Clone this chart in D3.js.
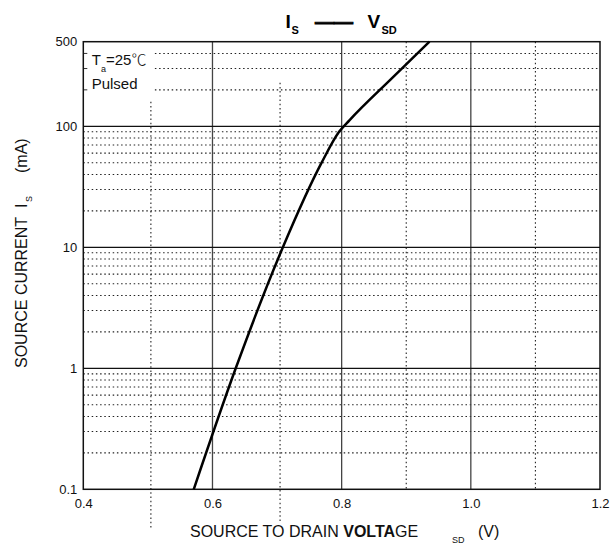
<!DOCTYPE html>
<html>
<head>
<meta charset="utf-8">
<script src="https://cdn.jsdelivr.net/npm/d3@7"></script>
<style>
  body { margin: 0; background: #fff; }
  svg { font-family: "Liberation Sans", Arial, sans-serif; }
</style>
</head>
<body>
<div id="container"></div>
<script>
// Is - Vsd curve
let vsd = [0.571, 0.636, 0.709, 0.769, 0.796, 0.812, 0.878, 0.936];
let is_ma = [0.1, 1, 10, 50, 90, 112, 250, 500];

let x_ticks = [0.4, 0.6, 0.8, 1.0, 1.2];
let x_minor = [0.5, 0.7, 0.9, 1.1];
let y_ticks = [0.1, 1, 10, 100, 500];
let decades = [0.1, 1, 10, 100];

let width = 616;
let height = 544;
let margin = ({ top: 41.7, right: 16, bottom: 54.7, left: 83.3 });
let w = width - margin.left - margin.right;
let h = height - margin.top - margin.bottom;

let dots = "1.5,2.7";

let svg = d3.select("#container")
  .append("svg")
  .attr("width", width)
  .attr("height", height);

let g = svg.append("g")
  .attr("transform", "translate(" + margin.left + "," + margin.top + ")");

let x = d3.scaleLinear().domain([0.4, 1.2]).range([0, w]);
let y = d3.scaleLog().domain([0.1, 500]).range([h, 0]);

// minor horizontal dotted lines
decades.forEach(function (d) {
  let vals = d3.range(2, 10).map(function (k) { return k * d; }).filter(function (v) { return v < 500; });
  let x_start = d == 100 ? x(0.5) + 7 : 0;
  g.selectAll(null)
    .data(vals)
    .enter()
    .append("line")
    .attr("x1", x_start)
    .attr("x2", w)
    .attr("y1", function (v) { return y(v); })
    .attr("y2", function (v) { return y(v); })
    .attr("stroke", "#222")
    .attr("stroke-width", 1.1)
    .attr("stroke-dasharray", dots);
  if (d == 100) {
    g.selectAll(null)
      .data(vals)
      .enter()
      .append("line")
      .attr("x1", 0)
      .attr("x2", 4)
      .attr("y1", function (v) { return y(v); })
      .attr("y2", function (v) { return y(v); })
      .attr("stroke", "#333")
      .attr("stroke-width", 1);
  }
});

// vertical dotted lines; 0.5 and 0.7 are drawn shifted and run below the axis
let shifted = { 0.5: [60, 40], 0.7: [41, 34] };
g.selectAll(".vminor")
  .data(x_minor)
  .enter()
  .append("line")
  .attr("class", "vminor")
  .attr("x1", function (d) { return x(d) + (shifted[d] ? 3 : 0); })
  .attr("x2", function (d) { return x(d) + (shifted[d] ? 3 : 0); })
  .attr("y1", function (d) { return shifted[d] ? shifted[d][0] : 0; })
  .attr("y2", function (d) { return shifted[d] ? h + shifted[d][1] : h; })
  .attr("stroke", "#222")
  .attr("stroke-width", 1.1)
  .attr("stroke-dasharray", dots);

// major grid
g.selectAll(".vmajor")
  .data([0.6, 0.8, 1.0])
  .enter()
  .append("line")
  .attr("x1", function (d) { return x(d); })
  .attr("x2", function (d) { return x(d); })
  .attr("y1", 0)
  .attr("y2", h)
  .attr("stroke", "#444")
  .attr("stroke-width", 1.3);

g.selectAll(".hmajor")
  .data([1, 10, 100])
  .enter()
  .append("line")
  .attr("x1", 0)
  .attr("x2", w)
  .attr("y1", function (d) { return y(d); })
  .attr("y2", function (d) { return y(d); })
  .attr("stroke", "#111")
  .attr("stroke-width", 1.3);

// frame
g.append("rect")
  .attr("x", 0)
  .attr("y", 0)
  .attr("width", w)
  .attr("height", h)
  .attr("fill", "none")
  .attr("stroke", "#111")
  .attr("stroke-width", 1.5);

// axes (labels only)
let xAxis = g.append("g")
  .attr("transform", "translate(0," + h + ")")
  .call(d3.axisBottom(x).tickValues(x_ticks).tickSize(0).tickPadding(9)
    .tickFormat(d3.format(".1f")));
let yAxis = g.append("g")
  .call(d3.axisLeft(y).tickValues(y_ticks).tickSize(0).tickPadding(6)
    .tickFormat(function (d) { return String(d); }));
[xAxis, yAxis].forEach(function (a) {
  a.select(".domain").remove();
  a.selectAll("text")
    .attr("font-family", "'Liberation Sans', Arial, sans-serif")
    .attr("font-size", 13)
    .attr("fill", "#111");
});

// curve
let line = d3.line()
  .x(function (d, i) { return x(vsd[i]); })
  .y(function (d, i) { return y(is_ma[i]); })
  .curve(d3.curveMonotoneX);

g.append("path")
  .datum(vsd)
  .attr("d", line)
  .attr("fill", "none")
  .attr("stroke", "#000")
  .attr("stroke-width", 2.5);

// annotation
let note = svg.append("text").attr("font-size", 15).attr("fill", "#111");
note.append("tspan").attr("x", 91.7).attr("y", 65).text("T");
note.append("tspan").attr("x", 101).attr("y", 71.5).attr("font-size", 9).text("a");
note.append("tspan").attr("x", 106).attr("y", 65).text("=25");
note.append("tspan").attr("font-family", "'Noto Sans CJK SC'").attr("font-weight", 300).text("℃");
svg.append("text")
  .attr("x", 91.7)
  .attr("y", 89)
  .attr("font-size", 15)
  .attr("fill", "#111")
  .text("Pulsed");

// title
let title = svg.append("text").attr("font-weight", "bold").attr("fill", "#000");
title.append("tspan").attr("x", 285.5).attr("y", 28).attr("font-size", 19).text("I");
title.append("tspan").attr("x", 291.5).attr("y", 33.5).attr("font-size", 11).text("S");
title.append("tspan").attr("x", 315).attr("y", 28).attr("font-size", 19)
  .attr("stroke", "#000").attr("stroke-width", 0.9).text("——");
title.append("tspan").attr("x", 367.5).attr("y", 28).attr("font-size", 19).text("V");
title.append("tspan").attr("x", 381.5).attr("y", 33.5).attr("font-size", 11).text("SD");

// x axis title
let xt = svg.append("text").attr("font-size", 16).attr("fill", "#111");
xt.append("tspan").attr("x", 190).attr("y", 537).text("SOURCE TO DRAIN ");
xt.append("tspan").attr("font-weight", "bold").text("VOLTA");
xt.append("tspan").text("GE");
xt.append("tspan").attr("x", 452).attr("y", 543).attr("font-size", 9).text("SD");
xt.append("tspan").attr("x", 478).attr("y", 537).text("(V)");

// y axis title
let yt = svg.append("text")
  .attr("transform", "translate(27,368) rotate(-90)")
  .attr("font-size", 16)
  .attr("fill", "#111");
yt.append("tspan").attr("x", 0).attr("y", 0).text("SOURCE CURRENT");
yt.append("tspan").attr("x", 160).attr("y", 0).text("I");
yt.append("tspan").attr("x", 166).attr("y", 5).attr("font-size", 9).text("S");
yt.append("tspan").attr("x", 195).attr("y", 0).text("(mA)");
</script>
</body>
</html>
